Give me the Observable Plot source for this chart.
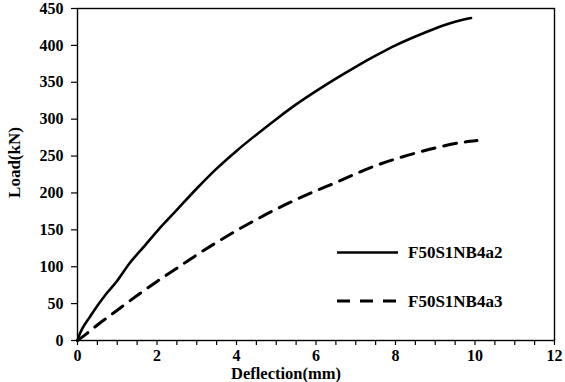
<!DOCTYPE html>
<html>
<head>
<meta charset="utf-8">
<script src="https://cdn.jsdelivr.net/npm/d3@7"></script>
<script src="https://cdn.jsdelivr.net/npm/@observablehq/plot@0.6"></script>
<style>
  html, body { margin: 0; padding: 0; background: white; }
  #wrap { position: relative; width: 565px; height: 382px; }
  #legend { position: absolute; left: 0; top: 0; pointer-events: none; }
  #legend text { font-family: 'Liberation Serif', 'Times New Roman', serif; font-weight: bold; font-size: 17px; }
</style>
</head>
<body>
<div id="wrap"></div>
<script>
const seriesNames = ["F50S1NB4a2", "F50S1NB4a3"];
// Series: F50S1NB4a2 (solid)
const deflA2 = [0, 0.05, 0.12, 0.3, 0.5, 0.75, 1.0, 1.3, 1.7, 2.0, 2.5, 3.0, 3.5, 4.0, 4.5, 5.0, 5.5, 6.0, 6.5, 7.0, 7.5, 8.0, 8.5, 9.0, 9.5, 9.9];
const loadA2 = [0, 8, 16, 31, 47, 65, 81, 104, 129, 148, 177, 206, 233, 257, 279, 300, 320, 338, 355, 371, 386, 400, 412, 423, 432, 437];
// Series: F50S1NB4a3 (dashed)
const deflA3 = [0, 0.2, 0.5, 1.0, 1.5, 2.0, 2.5, 3.0, 3.5, 4.0, 4.5, 5.0, 5.5, 6.0, 6.5, 7.0, 7.5, 8.0, 8.5, 9.0, 9.5, 10.05];
const loadA3 = [0, 8, 21, 41, 61, 80, 98, 116, 133, 149, 164, 178, 191, 203, 214, 226, 237, 246, 254, 261, 267, 271];
// Tick values
const xTicks = d3.range(0, 12.001, 0.5);
const xLabelTicks = [0, 2, 4, 6, 8, 10, 12];
const yTicks = [0, 50, 100, 150, 200, 250, 300, 350, 400, 450];
const xTitle = "Deflection(mm)";
const yTitle = "Load(kN)";

const a2 = deflA2.map((d, i) => ({x: d, y: loadA2[i]}));
const a3 = deflA3.map((d, i) => ({x: d, y: loadA3[i]}));

const chart = Plot.plot({
  width: 565,
  height: 382,
  marginLeft: 77,
  marginRight: 11,
  marginTop: 8,
  marginBottom: 42,
  x: {domain: [0, 12]},
  y: {domain: [0, 450]},
  style: {
    fontFamily: "'Liberation Serif', 'Times New Roman', serif",
    fontSize: "16px",
    fontWeight: "bold",
    color: "black",
    background: "white"
  },
  marks: [
    Plot.axisX({ticks: xTicks, tickSize: 5, tickPadding: 4, strokeWidth: 1.2,
      tickFormat: d => xLabelTicks.includes(d) ? String(d) : "", label: null}),
    Plot.axisY({ticks: yTicks, tickSize: 6, tickPadding: 8, strokeWidth: 1.2, label: null}),
    Plot.frame({stroke: "black", strokeWidth: 1.4}),
    Plot.line(a2, {x: "x", y: "y", stroke: "black", strokeWidth: 2.6, curve: "monotone-x"}),
    Plot.line(a3, {x: "x", y: "y", stroke: "black", strokeWidth: 3, strokeDasharray: "13,9", curve: "monotone-x"}),
    Plot.text([xTitle], {text: d => d, frameAnchor: "bottom", lineAnchor: "middle", textAnchor: "middle", dx: -30, dy: 33, fontSize: 16.5, fontWeight: "bold", fill: "black"}),
    Plot.text([yTitle], {text: d => d, frameAnchor: "left", lineAnchor: "middle", textAnchor: "middle", dx: -63, dy: -12, rotate: -90, fontSize: 17, fontWeight: "bold", fill: "black"})
  ]
});

const wrap = document.getElementById("wrap");
wrap.appendChild(chart);

// Legend overlay inside the plot area
const ns = "http://www.w3.org/2000/svg";
const leg = document.createElementNS(ns, "svg");
leg.setAttribute("id", "legend");
leg.setAttribute("width", 565);
leg.setAttribute("height", 382);
const items = [
  {name: seriesNames[0], y: 252.5, x2: 398, dash: null, w: 2.6},
  {name: seriesNames[1], y: 301, x2: 403, dash: "13,10", w: 3}
];
items.forEach(it => {
  const l = document.createElementNS(ns, "line");
  l.setAttribute("x1", 337); l.setAttribute("x2", it.x2);
  l.setAttribute("y1", it.y); l.setAttribute("y2", it.y);
  l.setAttribute("stroke", "black"); l.setAttribute("stroke-width", it.w);
  if (it.dash) l.setAttribute("stroke-dasharray", it.dash);
  leg.appendChild(l);
  const t = document.createElementNS(ns, "text");
  t.setAttribute("x", 408); t.setAttribute("y", it.y);
  t.setAttribute("dy", "0.35em");
  t.setAttribute("fill", "black");
  t.textContent = it.name;
  leg.appendChild(t);
});
wrap.appendChild(leg);
</script>
</body>
</html>
